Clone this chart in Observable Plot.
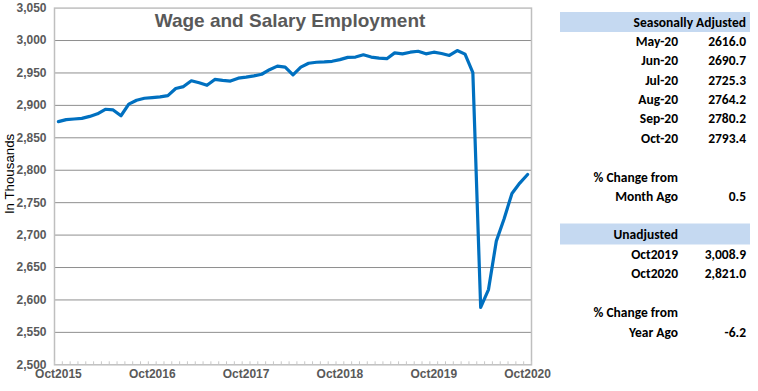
<!DOCTYPE html>
<html>
<head>
<meta charset="utf-8">
<script src="https://cdn.jsdelivr.net/npm/d3@7"></script>
<script src="https://cdn.jsdelivr.net/npm/@observablehq/plot@0.6"></script>
<style>
  html, body { margin: 0; padding: 0; background: #fff; }
  #wrap { position: relative; width: 758px; height: 391px; overflow: hidden; }
  #chart { position: absolute; left: 0; top: 0; }
  #table { position: absolute; left: 0; top: 0; }
  text { font-family: "Liberation Sans", Arial, sans-serif; }
  #table text { font-family: Carlito, Lato, "Open Sans", sans-serif; }
</style>
</head>
<body>
<div id="wrap"><div id="chart"></div><svg id="table" width="758" height="391"></svg></div>
<script>
// ---- data ----
const title = "Wage and Salary Employment";
const yLabel = "In Thousands";
// monthly employment, Oct2015 .. Oct2020 (thousands)
const employment = [2875, 2878, 2879, 2880, 2883, 2887, 2894, 2893, 2884, 2902, 2908, 2911, 2912, 2913, 2915, 2926, 2929, 2938, 2935, 2931, 2940, 2938.5, 2937.5, 2942, 2943.5, 2945.5, 2948, 2955, 2960.5, 2959, 2947, 2959, 2965, 2966.5, 2967, 2968, 2970.5, 2974, 2974.5, 2978, 2974.5, 2973, 2972, 2981, 2979.5, 2982, 2983.5, 2979.5, 2982, 2980, 2977, 2984.5, 2979, 2950.5, 2588.5, 2616.0, 2690.7, 2725.3, 2764.2, 2780.2, 2793.4];
const tickIndex = [0, 12, 24, 36, 48, 60];
const tickLabels = ["Oct2015", "Oct2016", "Oct2017", "Oct2018", "Oct2019", "Oct2020"];
const yTicks = d3.range(2500, 3051, 50);

// right-hand table
const saHeader = "Seasonally Adjusted";
const saMonths = ["May-20", "Jun-20", "Jul-20", "Aug-20", "Sep-20", "Oct-20"];
const saValues = ["2616.0", "2690.7", "2725.3", "2764.2", "2780.2", "2793.4"];
const monthChangeLabels = ["% Change from", "Month Ago"];
const monthChangeValue = "0.5";
const unHeader = "Unadjusted";
const unMonths = ["Oct2019", "Oct2020"];
const unValues = ["3,008.9", "2,821.0"];
const yearChangeLabels = ["% Change from", "Year Ago"];
const yearChangeValue = "-6.2";

// ---- chart ----
const data = employment.map((v, i) => ({i, v}));
const boundaries = d3.range(-0.5, 61, 1);
const gray = "#595959";

const chart = Plot.plot({
  width: 758,
  height: 391,
  marginLeft: 54,
  marginRight: 227,
  marginTop: 7.6,
  marginBottom: 26.7,
  style: {fontFamily: "Liberation Sans, Arial, sans-serif", background: "transparent", overflow: "visible"},
  x: {domain: [-0.5, 60.5], axis: null},
  y: {domain: [2500, 3050], axis: null},
  marks: [
    Plot.ruleY(yTicks.filter(d => d > 2500 && d < 3050), {stroke: "#8f8f8f", strokeWidth: 1}),
    Plot.frame({stroke: "#bfbfbf", strokeWidth: 1.5}),
    Plot.ruleX(boundaries, {x: d => d, y1: 2500, y2: 2500, insetTop: -3, stroke: "#c8c8c8", strokeWidth: 1}),
    Plot.axisY(yTicks, {label: null, tickSize: 0, tickPadding: 8, tickFormat: d3.format(","), fontSize: 12, fontWeight: "bold", fill: gray}),
    Plot.axisX(tickIndex, {label: null, tickSize: 0, tickPadding: 5, tickFormat: (d, k) => tickLabels[k], fontSize: 12, fontWeight: "bold", fill: gray}),
    Plot.line(data, {x: "i", y: "v", stroke: "#0070C0", strokeWidth: 3.2, strokeLinejoin: "round", strokeLinecap: "round"}),
    Plot.text([title], {frameAnchor: "top", dy: 13, dx: -3, fontSize: 19, fontWeight: "bold", fill: gray, lineAnchor: "middle"}),
    Plot.text([yLabel], {frameAnchor: "left", textAnchor: "middle", lineAnchor: "middle", dx: -45, dy: -12.5, rotate: -90, fontSize: 13.3, fill: "#000"})
  ]
});
document.getElementById("chart").appendChild(chart);

// ---- table ----
const svg = d3.select("#table");
const fs = 13.5;
const labelX = 678, valueX = 746;
function txt(x, y, s) {
  svg.append("text").attr("x", x).attr("y", y).attr("text-anchor", "end")
    .attr("font-size", fs).attr("font-weight", 600).attr("fill", "#000").text(s);
}
svg.append("rect").attr("x", 560).attr("y", 12).attr("width", 190).attr("height", 20).attr("fill", "#C5D9F1");
txt(valueX, 26.7, saHeader);
saMonths.forEach((m, k) => {
  const y = 46 + k * 19.33;
  txt(labelX, y, m);
  txt(valueX, y, saValues[k]);
});
txt(labelX, 181.7, monthChangeLabels[0]);
txt(labelX, 200.5, monthChangeLabels[1]);
txt(valueX, 200.5, monthChangeValue);
svg.append("rect").attr("x", 560).attr("y", 223.5).attr("width", 190).attr("height", 21).attr("fill", "#C5D9F1");
txt(labelX, 239.3, unHeader);
unMonths.forEach((m, k) => {
  const y = 258.5 + k * 19.5;
  txt(labelX, y, m);
  txt(valueX, y, unValues[k]);
});
txt(labelX, 317.3, yearChangeLabels[0]);
txt(labelX, 336.7, yearChangeLabels[1]);
txt(valueX, 336.7, yearChangeValue);
</script>
</body>
</html>
